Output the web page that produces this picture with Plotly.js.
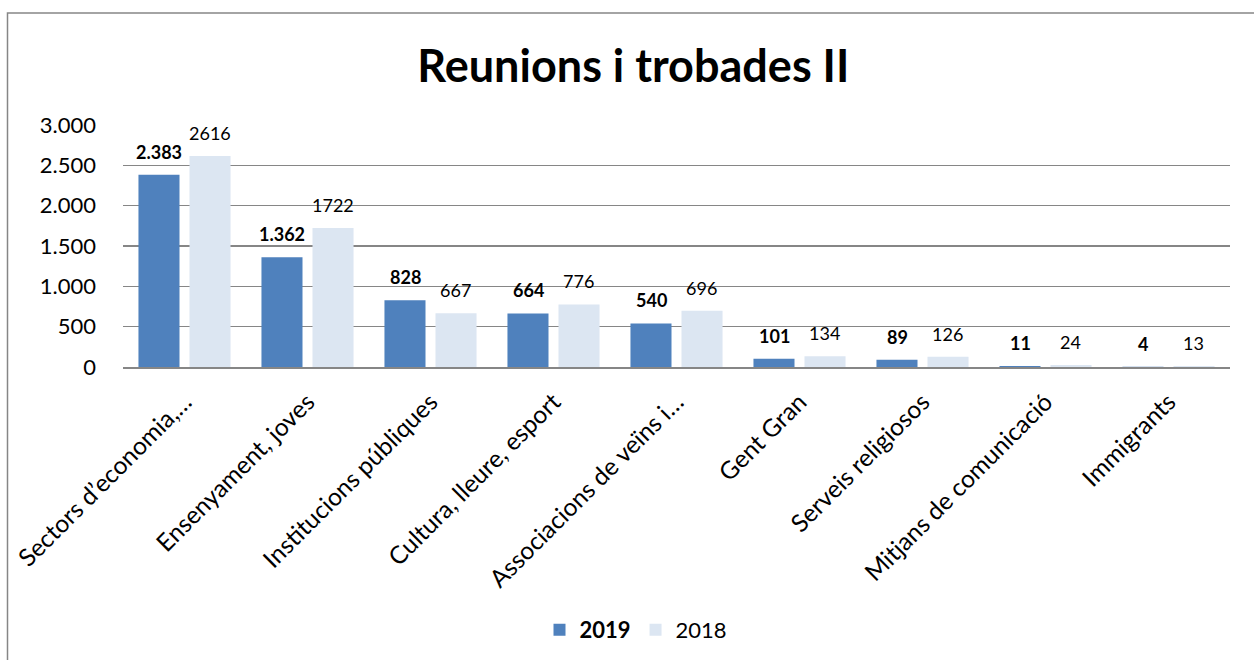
<!DOCTYPE html>
<html>
<head>
<meta charset="utf-8">
<script src="https://cdn.plot.ly/plotly-3.0.1.min.js"></script>
<style>html,body{margin:0;padding:0;background:#fff;}#chart{width:1254px;height:660px;}</style>
</head>
<body>
<div id="chart"></div>
<script>
const categories = ["Sectors d’economia,…", "Ensenyament, joves", "Institucions públiques", "Cultura, lleure, esport", "Associacions de veïns i…", "Gent Gran", "Serveis religiosos", "Mitjans de comunicació", "Immigrants"];
const values2019 = [2383, 1362, 828, 664, 540, 101, 89, 11, 4];
const values2018 = [2616, 1722, 667, 776, 696, 134, 126, 24, 13];
const seriesNames = ["2019", "2018"];
const yTicks = [0, 500, 1000, 1500, 2000, 2500, 3000];

const W = 1254, H = 660;
const L = 123, R = 1230, T = 125, B = 367;
const FONT = "Lato, 'Open Sans', sans-serif";

function fmt(v){ return String(v).replace(/\B(?=(\d{3})+(?!\d))/g, "."); }

const traces = [
  {type:"bar", name:"<b>"+seriesNames[0]+"</b>", x:categories, y:values2019, marker:{color:"#4F81BD"}, hoverinfo:"none"},
  {type:"bar", name:seriesNames[1], x:categories, y:values2018, marker:{color:"#DCE6F2"}, hoverinfo:"none"}
];

const annotations = [];
const off = 0.207;
categories.forEach((c,i)=>{
  annotations.push({x:i-off, y:values2019[i], xref:"x", yref:"y", text:"<b>"+fmt(values2019[i])+"</b>", showarrow:false, yanchor:"bottom", yshift:10, font:{family:FONT, size:18, color:"#000"}});
  annotations.push({x:i+off, y:values2018[i], xref:"x", yref:"y", text:String(values2018[i]), showarrow:false, yanchor:"bottom", yshift:10, font:{family:FONT, size:18, color:"#000"}});
});

const pw = R - L, ph = B - T;
const px = X => (X - L) / pw;
const py = Y => (B - Y) / ph;

const layout = {
  width: W, height: H,
  margin: {l:L, r:W-R, t:T, b:H-B, pad:0},
  paper_bgcolor:"#fff", plot_bgcolor:"#fff",
  separators: ",.",
  font:{family:FONT, color:"#000"},
  title:{text:"<b>Reunions i trobades II</b>", font:{family:FONT, size:45, color:"#000"}, x:0.505, xref:"container", xanchor:"center", y:1-66/H, yref:"container", yanchor:"middle"},
  barmode:"group", bargap:0.17, bargroupgap:0.196,
  xaxis:{type:"category", tickangle:-45, tickfont:{family:FONT, size:24.5, color:"#000"}, showline:true, linecolor:"#868686", linewidth:2, ticks:"", ticklabelstandoff:9, showgrid:false, automargin:false, fixedrange:true},
  yaxis:{range:[0,3000], tickvals:yTicks, tickformat:",d", tickfont:{family:FONT, size:22, color:"#000"}, showgrid:true, gridcolor:"#868686", gridwidth:1.3, zeroline:false, showline:false, ticks:"", ticklabelstandoff:26, automargin:false, fixedrange:true},
  legend:{orientation:"h", x:(636-L)/pw, xanchor:"center", y:1-630/H, yref:"container", yanchor:"middle", font:{family:FONT, size:22, color:"#000"}, traceorder:"normal"},
  annotations: annotations,
  shapes:[{type:"rect", xref:"paper", yref:"paper", x0:px(7.5), x1:px(1270), y0:py(700), y1:py(13), line:{color:"#868686", width:1.5}, fillcolor:"rgba(0,0,0,0)", layer:"below"}]
};

Plotly.newPlot("chart", traces, layout, {displayModeBar:false, staticPlot:true});
</script>
</body>
</html>
